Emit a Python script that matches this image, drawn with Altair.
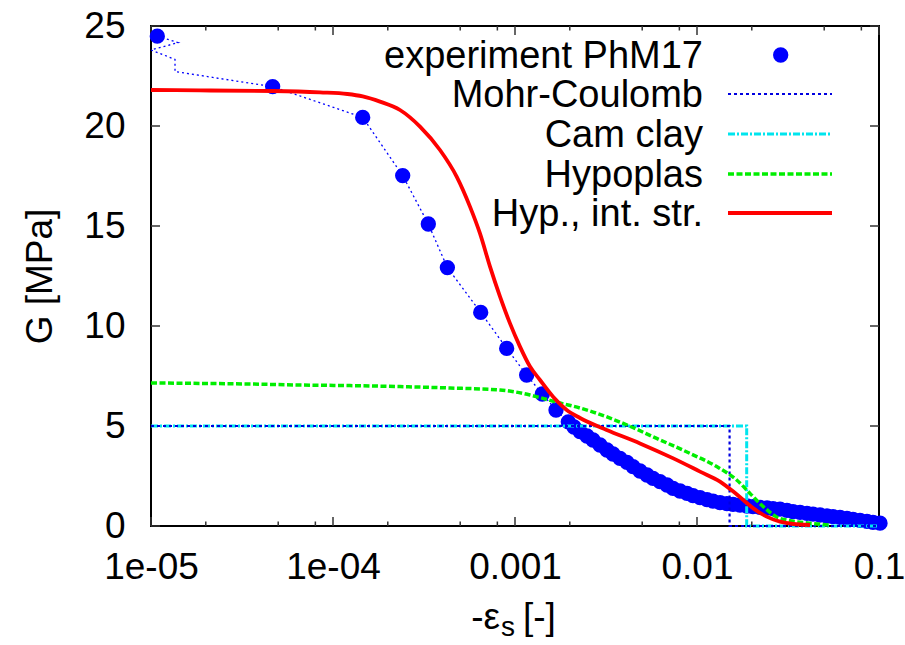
import altair as alt
import pandas as pd

# ---------------- data ----------------
# experiment PhM17 : plotted symbols
exp_x = [1.083e-5, 4.66e-5, 1.456e-4, 2.415e-4, 3.34e-4, 4.25e-4, 6.48e-4, 9.0e-4,
         1.159e-3, 1.413e-3, 1.68e-3, 1.963e-3,
         2.110e-3, 2.276e-3, 2.486e-3, 2.683e-3, 2.931e-3, 3.202e-3, 3.456e-3, 3.774e-3,
         4.124e-3, 4.450e-3, 4.861e-3, 5.312e-3, 5.731e-3, 6.261e-3, 6.842e-3, 7.382e-3,
         8.066e-3, 8.812e-3, 9.506e-3, 1.039e-2, 1.135e-2, 1.224e-2, 1.338e-2, 1.461e-2,
         1.577e-2, 1.723e-2, 1.882e-2, 2.031e-2, 2.219e-2, 2.424e-2, 2.616e-2, 2.858e-2,
         3.122e-2, 3.369e-2, 3.681e-2, 4.021e-2, 4.339e-2, 4.740e-2, 5.179e-2, 5.588e-2,
         6.105e-2, 6.669e-2, 7.197e-2, 7.863e-2, 8.591e-2, 9.268e-2, 1.013e-1]
exp_g = [24.49, 21.97, 20.43, 17.52, 15.1, 12.92, 10.68, 8.88,
         7.55, 6.6, 5.8, 5.21,
         4.95, 4.72, 4.5, 4.3, 4.05, 3.8, 3.6, 3.38,
         3.18, 2.97, 2.75, 2.55, 2.38, 2.22, 2.05, 1.88,
         1.75, 1.63, 1.52, 1.42, 1.32, 1.24, 1.17, 1.12,
         1.08, 1.04, 1.0, 0.97, 0.93, 0.9, 0.87, 0.84,
         0.78, 0.72, 0.68, 0.63, 0.59, 0.55, 0.5, 0.47,
         0.43, 0.38, 0.33, 0.28, 0.23, 0.18, 0.14]

# raw experiment curve (dotted), starting part before the symbols join in
exp_start_x = [1.083e-5, 1.41e-5, 1.0e-5, 1.355e-5, 1.355e-5]
exp_start_g = [24.49, 24.17, 23.8, 23.33, 22.72]

# Mohr-Coulomb
mc_x = [1e-5, 1.51e-2, 1.51e-2, 1e-1]
mc_g = [5.0, 5.0, 0.0, 0.0]

# Cam clay
cc_x = [1e-5, 1.875e-2, 1.875e-2, 1e-1]
cc_g = [5.0, 5.0, 0.0, 0.0]

# Hypoplas
hp_x = [1e-5, 1.859e-5, 3.5e-5, 6.585e-5, 1.24e-4, 2.334e-4, 4.395e-4, 8.274e-4,
        1.209e-3, 1.372e-3, 1.768e-3, 2.276e-3, 2.583e-3, 3.936e-3, 6.005e-3, 9.151e-3,
        1.283e-2, 1.652e-2, 1.955e-2, 2.313e-2, 2.858e-2, 4.622e-2, 5.372e-2]
hp_g = [7.15, 7.13, 7.1, 7.05, 7.02, 6.97, 6.9, 6.8,
        6.55, 6.42, 6.15, 5.9, 5.75, 5.13, 4.38, 3.63,
        2.97, 2.3, 1.63, 0.97, 0.38, 0.1, 0.05]

# Hyp., int. str.
rd_x = [1e-5, 1.859e-5, 4.663e-5, 8.49e-5, 1.2e-4, 1.456e-4, 1.812e-4, 2.334e-4, 3.006e-4,
        3.871e-4, 4.78e-4, 5.657e-4, 6.42e-4, 7.289e-4, 8.274e-4, 9.387e-4, 1.065e-3,
        1.209e-3, 1.372e-3, 1.623e-3, 1.924e-3, 2.276e-3, 3.19e-3, 4.861e-3, 7.411e-3,
        1.039e-2, 1.338e-2, 1.583e-2, 1.796e-2, 2.039e-2, 2.415e-2, 2.858e-2, 3.381e-2,
        4.177e-2]
rd_g = [21.8, 21.78, 21.75, 21.68, 21.6, 21.48, 21.22, 20.8, 19.97,
        18.8, 17.47, 15.97, 14.63, 12.97, 11.47, 10.13, 8.97,
        7.97, 7.3, 6.45, 5.8, 5.4, 4.8, 4.13, 3.38,
        2.72, 2.22, 1.72, 1.3, 0.88, 0.47, 0.22, 0.1,
        0.05]

# axes
x_major = [1e-5, 1e-4, 1e-3, 1e-2, 1e-1]
x_tick_labels = ["1e-05", "1e-04", "0.001", "0.01", "0.1"]
x_minor = [2e-5, 5e-5, 8e-5, 2e-4, 5e-4, 8e-4, 2e-3, 5e-3, 8e-3, 2e-2, 5e-2, 8e-2]
y_major = [0, 5, 10, 15, 20, 25]

legend_labels = ["experiment PhM17", "Mohr-Coulomb", "Cam clay", "Hypoplas", "Hyp., int. str."]

# ---------------- chart ----------------
FONT = "Liberation Sans"
W, H = 728, 500

xscale = alt.Scale(type="log", domain=[1e-5, 0.1], nice=False)
yscale = alt.Scale(domain=[0, 25], nice=False, zero=False)

label_expr = "[" + ",".join("'%s'" % s for s in x_tick_labels) + "][round(log(datum.value)/LN10)+5]"

xaxis = alt.Axis(values=x_major, labelExpr=label_expr, title=None, grid=False, domain=False,
                 ticks=False, tickSize=0, labelFont=FONT, labelFontSize=37, labelColor="black",
                 labelPadding=52, labelBaseline="alphabetic", labelFlush=False, labelOverlap=False)
yaxis = alt.Axis(values=y_major, title="G [MPa]", grid=False, domain=False, ticks=False,
                 tickSize=0, labelFont=FONT, labelFontSize=37, labelColor="black",
                 labelPadding=26, labelBaseline="middle", labelOverlap=False, labelFlush=False,
                 titleFont=FONT, titleFontSize=37, titleFontWeight="normal", titleColor="black",
                 titleAngle=270, titleX=-100, titleY=250, titleAlign="center",
                 titleBaseline="alphabetic")


def X():
    return alt.X("x:Q", scale=xscale, axis=xaxis)


def Y():
    return alt.Y("G:Q", scale=yscale, axis=yaxis)


def frame(xs, gs):
    return pd.DataFrame({"x": xs, "G": gs, "i": list(range(len(xs)))})


one = pd.DataFrame({"k": [0]})

BLUE = "#0000ff"
MC_COL = "#0000e0"
CC_COL = "#00e5ee"
HP_COL = "#00ee00"
RD_COL = "#ff0000"
TICK = "#333333"
PT_SIZE = 235

layers = []

# ticks (inward, gnuplot style)
layers.append(alt.Chart(pd.DataFrame({"x": x_major})).mark_rule(color=TICK, strokeWidth=1.5)
              .encode(x=X(), y=alt.value(H), y2=alt.value(H - 9)))
layers.append(alt.Chart(pd.DataFrame({"x": x_major})).mark_rule(color=TICK, strokeWidth=1.5)
              .encode(x=X(), y=alt.value(0), y2=alt.value(9)))
layers.append(alt.Chart(pd.DataFrame({"x": x_minor})).mark_rule(color=TICK, strokeWidth=1.5)
              .encode(x=X(), y=alt.value(H), y2=alt.value(H - 4.5)))
layers.append(alt.Chart(pd.DataFrame({"x": x_minor})).mark_rule(color=TICK, strokeWidth=1.5)
              .encode(x=X(), y=alt.value(0), y2=alt.value(4.5)))
layers.append(alt.Chart(pd.DataFrame({"G": y_major})).mark_rule(color=TICK, strokeWidth=1.5)
              .encode(y=Y(), x=alt.value(0), x2=alt.value(9)))
layers.append(alt.Chart(pd.DataFrame({"G": y_major})).mark_rule(color=TICK, strokeWidth=1.5)
              .encode(y=Y(), x=alt.value(W), x2=alt.value(W - 9)))

# experiment dotted raw line + symbols
layers.append(alt.Chart(frame(exp_start_x + exp_x[1:], exp_start_g + exp_g[1:]))
              .mark_line(color=BLUE, strokeWidth=1.3, strokeDash=[2, 3])
              .encode(x=X(), y=Y(), order="i:Q"))
layers.append(alt.Chart(frame(exp_x, exp_g)).mark_circle(color=BLUE, size=PT_SIZE, opacity=1)
              .encode(x=X(), y=Y()))

# models
layers.append(alt.Chart(frame(cc_x, cc_g)).mark_line(color=CC_COL, strokeWidth=3, strokeDash=[7, 2, 2, 2])
              .encode(x=X(), y=Y(), order="i:Q"))
layers.append(alt.Chart(frame(mc_x, mc_g)).mark_line(color=MC_COL, strokeWidth=2.2, strokeDash=[3, 3])
              .encode(x=X(), y=Y(), order="i:Q"))
layers.append(alt.Chart(frame(hp_x, hp_g)).mark_line(color=HP_COL, strokeWidth=3.5, strokeDash=[6, 2.5],
                                                     interpolate="monotone")
              .encode(x=X(), y=Y(), order="i:Q"))
layers.append(alt.Chart(frame(rd_x, rd_g)).mark_line(color=RD_COL, strokeWidth=3.8, interpolate="monotone")
              .encode(x=X(), y=Y(), order="i:Q"))

# legend (gnuplot style: text left of sample)
LEG_TX = 552
row_center = [29, 68, 108, 148, 187]
for lab, yc in zip(legend_labels, row_center):
    layers.append(alt.Chart(pd.DataFrame({"label": [lab]}))
                  .mark_text(font=FONT, fontSize=38, align="right", baseline="alphabetic", color="black")
                  .encode(text="label:N", x=alt.value(LEG_TX), y=alt.value(yc + 12.5)))

layers.append(alt.Chart(one).mark_point(filled=True, size=PT_SIZE, color=BLUE, opacity=1)
              .encode(x=alt.value(629.7), y=alt.value(row_center[0])))
sample_styles = [
    dict(color=MC_COL, strokeWidth=2.2, strokeDash=[3, 3]),
    dict(color=CC_COL, strokeWidth=3, strokeDash=[7, 2, 2, 2]),
    dict(color=HP_COL, strokeWidth=3.5, strokeDash=[6, 2.5]),
    dict(color=RD_COL, strokeWidth=3.8),
]
for st, yc in zip(sample_styles, row_center[1:]):
    layers.append(alt.Chart(one).mark_rule(**st)
                  .encode(x=alt.value(577), x2=alt.value(681), y=alt.value(yc)))

# x-axis title with subscript:  -ε_s [-]
layers.append(alt.Chart(one).mark_text(text="-ε", font=FONT, fontSize=37, align="right",
                                       baseline="alphabetic", color="black")
              .encode(x=alt.value(349), y=alt.value(603)))
layers.append(alt.Chart(one).mark_text(text="s", font=FONT, fontSize=28, align="left",
                                       baseline="alphabetic", color="black")
              .encode(x=alt.value(350), y=alt.value(610)))
layers.append(alt.Chart(one).mark_text(text="[-]", font=FONT, fontSize=37, align="left",
                                       baseline="alphabetic", color="black")
              .encode(x=alt.value(372), y=alt.value(603)))

chart = (alt.layer(*layers)
         .properties(width=W, height=H,
                     padding={"left": 151, "top": 26, "right": 26, "bottom": 119},
                     autosize=alt.AutoSizeParams(type="none"),
                     background="white")
         .configure_view(stroke="black", strokeWidth=2))

chart.save("out.html", embed_options={"renderer": "svg", "actions": False})
